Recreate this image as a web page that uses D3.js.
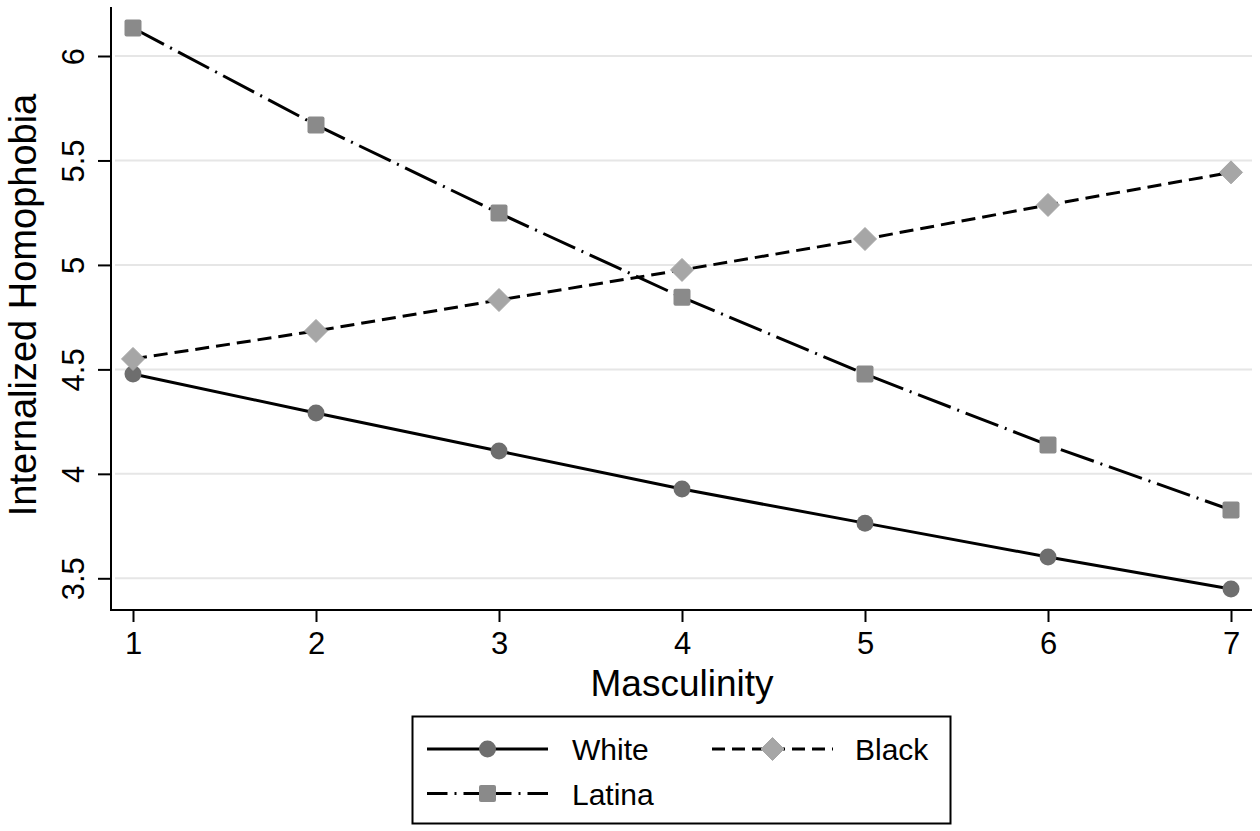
<!DOCTYPE html>
<html>
<head>
<meta charset="utf-8">
<script src="https://cdn.jsdelivr.net/npm/d3@7"></script>
<style>
  html, body { margin: 0; padding: 0; background: #fff; }
  svg { display: block; }
  text { font-family: "Liberation Sans", Arial, Helvetica, sans-serif; fill: #000; }
</style>
</head>
<body>
<svg id="chart" width="1260" height="831"></svg>
<script>
const xValues = [1, 2, 3, 4, 5, 6, 7];
const whiteValues  = [4.478, 4.291, 4.109, 3.927, 3.764, 3.602, 3.449];
const blackValues  = [4.550, 4.684, 4.832, 4.976, 5.124, 5.287, 5.443];
const latinaValues = [6.134, 5.670, 5.248, 4.845, 4.478, 4.138, 3.827];
const yTicks = [3.5, 4, 4.5, 5, 5.5, 6];
const xTicks = [1, 2, 3, 4, 5, 6, 7];
const seriesNames = ["White", "Black", "Latina"];
const xTitle = "Masculinity";
const yTitle = "Internalized Homophobia";

const svg = d3.select("#chart");
const W = 1260, H = 831;
svg.append("rect").attr("width", W).attr("height", H).attr("fill", "#fff");

const axisLeft = 111, axisRight = 1252, axisTop = 7, axisBottom = 610;
const x = d3.scaleLinear().domain([1, 7]).range([133, 1231]);
const y = d3.scaleLinear().domain([3.5, 6]).range([578.3, 56]);

// gridlines
svg.append("g").selectAll("line").data(yTicks).join("line")
  .attr("x1", axisLeft + 4).attr("x2", axisRight)
  .attr("y1", d => y(d)).attr("y2", d => y(d))
  .attr("stroke", "#e6e6e6").attr("stroke-width", 2);

// y axis
const yAxis = d3.axisLeft(y).tickValues(yTicks).tickSize(13).tickPadding(0).tickFormat(d3.format("~g"));
const gy = svg.append("g").attr("transform", `translate(${axisLeft},0)`).call(yAxis);
gy.select(".domain").remove();
gy.selectAll(".tick line").attr("stroke", "#000").attr("stroke-width", 2);
gy.selectAll(".tick text").remove();
gy.selectAll(".tick").append("text")
  .attr("transform", "translate(-38,0) rotate(-90)")
  .attr("text-anchor", "middle").attr("dy", "0.36em")
  .style("font-size", "31px").attr("fill", "#000")
  .text(d => d3.format("~g")(d));
svg.append("line").attr("x1", axisLeft).attr("x2", axisLeft)
  .attr("y1", axisTop).attr("y2", axisBottom + 1)
  .attr("stroke", "#000").attr("stroke-width", 2);

// x axis
const xAxis = d3.axisBottom(x).tickValues(xTicks).tickSize(12).tickPadding(0).tickFormat(d3.format("d"));
const gx = svg.append("g").attr("transform", `translate(0,${axisBottom})`).call(xAxis);
gx.select(".domain").remove();
gx.selectAll(".tick line").attr("stroke", "#000").attr("stroke-width", 2);
gx.selectAll(".tick text").style("font-size", "31px").attr("fill", "#000")
  .attr("font-family", "Liberation Sans, Arial, sans-serif")
  .attr("dy", null).attr("y", 44);
svg.append("line").attr("x1", axisLeft - 1).attr("x2", axisRight)
  .attr("y1", axisBottom).attr("y2", axisBottom)
  .attr("stroke", "#000").attr("stroke-width", 2);

// titles
svg.append("text").attr("x", 682).attr("y", 696).attr("text-anchor", "middle")
  .style("font-size", "37px").text(xTitle);
svg.append("text").attr("transform", "translate(22,305) rotate(-90)")
  .attr("text-anchor", "middle").attr("dy", "0.36em")
  .style("font-size", "38px").text(yTitle);

// series
const styles = {
  White:  { vals: whiteValues,  dash: null,          fill: "#6e6e6e", sym: "circle" },
  Black:  { vals: blackValues,  dash: "14 7",        fill: "#a6a6a6", sym: "diamond" },
  Latina: { vals: latinaValues, dash: "35 7 2 7",    fill: "#8a8a8a", sym: "square" }
};
const line = d3.line().x(d => x(d[0])).y(d => y(d[1]));

function drawMarker(g, sym, fill, cx, cy) {
  if (sym === "circle") {
    g.append("circle").attr("cx", cx).attr("cy", cy).attr("r", 8.5).attr("fill", fill);
  } else if (sym === "diamond") {
    const r = 11.5;
    g.append("path").attr("d", `M${cx},${cy - r}L${cx + r},${cy}L${cx},${cy + r}L${cx - r},${cy}Z`)
      .attr("fill", fill).attr("stroke", fill).attr("stroke-width", 1).attr("stroke-linejoin", "round");
  } else {
    const s = 17;
    g.append("rect").attr("x", cx - s / 2).attr("y", cy - s / 2).attr("width", s).attr("height", s)
      .attr("rx", 2).attr("fill", fill);
  }
}

const plotOrder = ["White", "Black", "Latina"];
plotOrder.forEach(name => {
  const st = styles[name];
  const pts = xValues.map((xv, i) => [xv, st.vals[i]]);
  const p = svg.append("path").attr("d", line(pts)).attr("fill", "none")
    .attr("stroke", "#000").attr("stroke-width", 3);
  if (st.dash) p.attr("stroke-dasharray", st.dash);
});
plotOrder.forEach(name => {
  const st = styles[name];
  const g = svg.append("g");
  xValues.forEach((xv, i) => drawMarker(g, st.sym, st.fill, x(xv), y(st.vals[i])));
});

// legend
svg.append("rect").attr("x", 412.5).attr("y", 716.5).attr("width", 538).attr("height", 107)
  .attr("fill", "#fff").attr("stroke", "#000").attr("stroke-width", 2);
const legendItems = [
  { name: "White",  lx: 427, cy: 749 },
  { name: "Black",  lx: 712, cy: 749 },
  { name: "Latina", lx: 427, cy: 793.5 }
];
legendItems.forEach(it => {
  const st = styles[it.name];
  const g = svg.append("g");
  const len = 121, mid = it.lx + len / 2;
  if (it.name === "Latina") {
    g.append("path").attr("d", `M${mid},${it.cy}H${it.lx + len}`).attr("stroke", "#000")
      .attr("stroke-width", 3).attr("stroke-dasharray", "24 7 2 7 35 7");
    g.append("path").attr("d", `M${mid},${it.cy}H${it.lx}`).attr("stroke", "#000")
      .attr("stroke-width", 3).attr("stroke-dasharray", "24 7 2 7 35 7");
  } else {
    const p = g.append("path").attr("d", `M${it.lx},${it.cy}H${it.lx + len}`).attr("stroke", "#000")
      .attr("stroke-width", 3);
    if (st.dash) p.attr("stroke-dasharray", "13 7");
  }
  drawMarker(g, st.sym, st.fill, mid, it.cy);
  g.append("text").attr("x", it.name === "Black" ? 855 : 572).attr("y", it.cy + 11)
    .style("font-size", "30px").text(it.name);
});
</script>
</body>
</html>
